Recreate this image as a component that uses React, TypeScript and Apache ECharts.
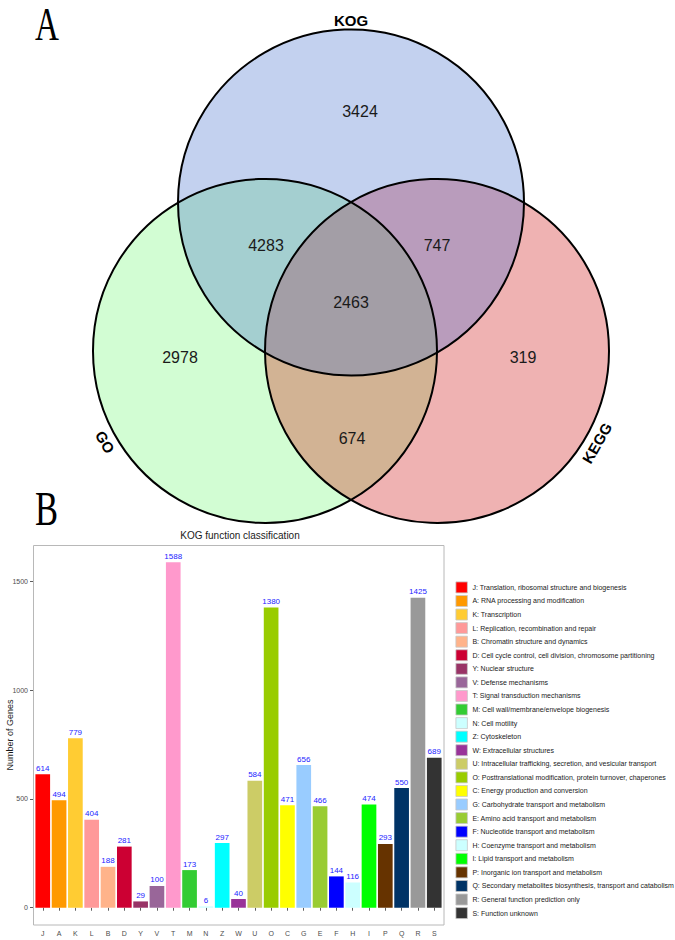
import React, { useEffect, useRef } from 'react';
import * as echarts from 'echarts';

// ---------- DATA ----------
const kogCats = ['J', 'A', 'K', 'L', 'B', 'D', 'Y', 'V', 'T', 'M', 'N', 'Z', 'W', 'U', 'O', 'C', 'G', 'E', 'F', 'H', 'I', 'P', 'Q', 'R', 'S'];
const kogValues = [614, 494, 779, 404, 188, 281, 29, 100, 1588, 173, 6, 297, 40, 584, 1380, 471, 656, 466, 144, 116, 474, 293, 550, 1425, 689];
const kogNames = [
  'J: Translation, ribosomal structure and biogenesis',
  'A: RNA processing and modification',
  'K: Transcription',
  'L: Replication, recombination and repair',
  'B: Chromatin structure and dynamics',
  'D: Cell cycle control, cell division, chromosome partitioning',
  'Y: Nuclear structure',
  'V: Defense mechanisms',
  'T: Signal transduction mechanisms',
  'M: Cell wall/membrane/envelope biogenesis',
  'N: Cell motility',
  'Z: Cytoskeleton',
  'W: Extracellular structures',
  'U: Intracellular trafficking, secretion, and vesicular transport',
  'O: Posttranslational modification, protein turnover, chaperones',
  'C: Energy production and conversion',
  'G: Carbohydrate transport and metabolism',
  'E: Amino acid transport and metabolism',
  'F: Nucleotide transport and metabolism',
  'H: Coenzyme transport and metabolism',
  'I: Lipid transport and metabolism',
  'P: Inorganic ion transport and metabolism',
  'Q: Secondary metabolites biosynthesis, transport and catabolism',
  'R: General function prediction only',
  'S: Function unknown',
];
const yTickValues = [0, 500, 1000, 1500];

const vennSets = ['KOG', 'GO', 'KEGG'];
// regions: KOG only, GO only, KEGG only, KOG&GO, KOG&KEGG, GO&KEGG, all three
const vennCounts = [3424, 2978, 319, 4283, 747, 674, 2463];

// ---------- STYLES / LAYOUT ----------
const FONT = '"Liberation Sans", Arial, sans-serif';
const kogColors = [
  '#FF0000', '#FF9900', '#FFCC33', '#FF9999', '#FFB38A', '#CC0033', '#993366', '#996699',
  '#FF99CC', '#33CC33', '#CCFFFF', '#00FFFF', '#993399', '#CCCC66', '#99CC00', '#FFFF00',
  '#99CCFF', '#99CC33', '#0000FF', '#CCFFFF', '#00FF00', '#663300', '#003366', '#999999', '#333333',
];
const VENN_CIRCLES = [
  { x: 351, y: 202.5, r: 173 },
  { x: 265, y: 351, r: 172 },
  { x: 437, y: 351, r: 172 },
];
const SET_FILL = ['#c3d1ef', '#d2fdd3', '#efb2b2'];
const PAIR_FILL = { KG: '#a4cfd0', KE: '#b99cbc', GE: '#d2b394' };
const TRIPLE_FILL = '#a39ea6';
const REGION_LABEL_POS = [
  [360, 111], [180, 357], [523, 357], [266, 245], [437, 245], [352, 438], [351, 302],
];
const SET_LABEL_POS = [
  { x: 351, y: 20, rot: 0 },
  { x: 105, y: 442, rot: -60 },
  { x: 597, y: 443, rot: 60 },
];

type C = { x: number; y: number; r: number };

function intersect(a: C, b: C): number[][] {
  const dx = b.x - a.x, dy = b.y - a.y;
  const d = Math.hypot(dx, dy);
  const l = (a.r * a.r - b.r * b.r + d * d) / (2 * d);
  const h = Math.sqrt(Math.max(0, a.r * a.r - l * l));
  const ux = dx / d, uy = dy / d;
  const mx = a.x + ux * l, my = a.y + uy * l;
  const nx = -uy, ny = ux;
  return [[mx + nx * h, my + ny * h], [mx - nx * h, my - ny * h]];
}
function arcPts(c: C, p: number[], q: number[], n = 90): number[][] {
  const a1 = Math.atan2(p[1] - c.y, p[0] - c.x);
  const a2 = Math.atan2(q[1] - c.y, q[0] - c.x);
  let da = a2 - a1;
  while (da > Math.PI) da -= 2 * Math.PI;
  while (da < -Math.PI) da += 2 * Math.PI;
  const out: number[][] = [];
  for (let i = 0; i <= n; i++) {
    const t = a1 + (da * i) / n;
    out.push([c.x + c.r * Math.cos(t), c.y + c.r * Math.sin(t)]);
  }
  return out;
}
function closest(pts: number[][], c: C) {
  return Math.hypot(pts[0][0] - c.x, pts[0][1] - c.y) <= Math.hypot(pts[1][0] - c.x, pts[1][1] - c.y) ? pts[0] : pts[1];
}
function lens(a: C, b: C) {
  const [p, q] = intersect(a, b);
  return arcPts(a, p, q).concat(arcPts(b, q, p));
}

function renderVenn(params: any, api: any) {
  const cs: C[] = VENN_CIRCLES.map((g) => {
    const p = api.coord([g.x, g.y]);
    const p2 = api.coord([g.x + g.r, g.y]);
    return { x: p[0], y: p[1], r: Math.abs(p2[0] - p[0]) };
  });
  const [K, G, E] = cs;
  const children: any[] = [];
  cs.forEach((c, i) => {
    children.push({ type: 'circle', shape: { cx: c.x, cy: c.y, r: c.r }, style: { fill: SET_FILL[i], stroke: null } });
  });
  children.push({ type: 'polygon', shape: { points: lens(K, G) }, style: { fill: PAIR_FILL.KG } });
  children.push({ type: 'polygon', shape: { points: lens(K, E) }, style: { fill: PAIR_FILL.KE } });
  children.push({ type: 'polygon', shape: { points: lens(G, E) }, style: { fill: PAIR_FILL.GE } });
  const vKG = closest(intersect(K, G), E);
  const vKE = closest(intersect(K, E), G);
  const vGE = closest(intersect(G, E), K);
  const tri = arcPts(K, vKG, vKE).concat(arcPts(E, vKE, vGE)).concat(arcPts(G, vGE, vKG));
  children.push({ type: 'polygon', shape: { points: tri }, style: { fill: TRIPLE_FILL } });
  cs.forEach((c) => {
    children.push({ type: 'circle', shape: { cx: c.x, cy: c.y, r: c.r }, style: { fill: 'none', stroke: '#000', lineWidth: 2 } });
  });
  vennCounts.forEach((v, i) => {
    const p = api.coord(REGION_LABEL_POS[i]);
    children.push({
      type: 'text', x: p[0], y: p[1],
      style: { text: String(v), fill: '#1a1a1a', fontSize: 16, fontFamily: FONT, align: 'center', verticalAlign: 'middle' },
    });
  });
  vennSets.forEach((s, i) => {
    const L = SET_LABEL_POS[i];
    const p = api.coord([L.x, L.y]);
    children.push({
      type: 'text', x: p[0], y: p[1], rotation: (L.rot * Math.PI) / 180,
      style: { text: s, fill: '#000', fontSize: 15, fontWeight: 'bold', fontFamily: FONT, align: 'center', verticalAlign: 'middle' },
    });
  });
  return { type: 'group', children };
}

function buildOption(): any {
  const yMin = -79.4, yMax = 1667.4;
  const barSeries = kogCats.map((c, i) => ({
    type: 'bar',
    name: kogNames[i],
    stack: 'kog',
    xAxisIndex: 0,
    yAxisIndex: 0,
    barWidth: '90%',
    data: kogCats.map((_, j) => (j === i ? kogValues[i] : '-')),
    itemStyle: { color: kogColors[i] },
    label: { show: true, position: 'top', distance: 2, color: '#2323ff', fontSize: 8, fontFamily: FONT },
  }));
  return {
    animation: false,
    backgroundColor: '#ffffff',
    textStyle: { fontFamily: FONT },
    grid: [
      { left: 34.6, top: 545, width: 407.8, height: 380, containLabel: false, outerBoundsMode: 'none' },
      { left: 0, top: 0, width: 675, height: 530, containLabel: false, outerBoundsMode: 'none' },
    ],
    xAxis: [
      {
        type: 'category', gridIndex: 0, data: kogCats,
        axisLine: { show: false },
        axisTick: { show: true, alignWithLabel: true, length: 3, lineStyle: { color: '#333333', width: 0.8 } },
        axisLabel: { fontSize: 7, color: '#4d4d4d', margin: 5 },
      },
      { type: 'value', gridIndex: 1, min: 0, max: 675, show: false },
    ],
    yAxis: [
      {
        type: 'value', gridIndex: 0, min: yMin, max: yMax, offset: 1.6,
        axisLine: { show: false },
        axisTick: { show: true, length: 3, customValues: yTickValues, lineStyle: { color: '#333333', width: 0.8 } },
        axisLabel: { customValues: yTickValues, fontSize: 7, color: '#4d4d4d', margin: 5, formatter: (v: number) => String(v) },
        splitLine: { show: false },
        name: 'Number of Genes', nameLocation: 'middle', nameGap: 19, nameRotate: 90,
        nameMoveOverlap: false,
        nameTextStyle: { fontSize: 9, color: '#1a1a1a' },
      },
      { type: 'value', gridIndex: 1, min: 0, max: 530, inverse: true, show: false },
    ],
    legend: {
      orient: 'vertical', left: 455.5, top: 581.5, padding: 0,
      itemWidth: 11.5, itemHeight: 11, itemGap: 1.77, icon: 'rect',
      selectedMode: false,
      itemStyle: { borderColor: '#c8c8c8', borderWidth: 0.8 },
      textStyle: { fontSize: 7, color: '#1a1a1a', fontFamily: FONT },
      data: kogNames,
    },
    graphic: [
      { type: 'text', x: 35, y: 24.5, scaleX: 0.72, style: { text: 'A', fontSize: 46, lineHeight: 34, fontFamily: '"Liberation Serif", serif', fill: '#000', align: 'left', verticalAlign: 'middle' } },
      { type: 'text', x: 35, y: 509, scaleX: 0.72, style: { text: 'B', fontSize: 48, lineHeight: 34, fontFamily: '"Liberation Serif", serif', fill: '#000', align: 'left', verticalAlign: 'middle' } },
      { type: 'text', x: 240, y: 535.5, style: { text: 'KOG function classification', fontSize: 10, fontFamily: FONT, fill: '#1a1a1a', align: 'center', verticalAlign: 'middle' } },
      { type: 'rect', shape: { x: 33.5, y: 545.5, width: 410.5, height: 379.5 }, style: { fill: 'none', stroke: '#b8b8b8', lineWidth: 1 }, z: 10 },
    ],
    series: [
      {
        type: 'custom', coordinateSystem: 'cartesian2d', xAxisIndex: 1, yAxisIndex: 1,
        silent: true, clip: false, data: [[0, 0]], renderItem: renderVenn,
      },
      ...barSeries,
    ],
  };
}

export default function App() {
  const ref = useRef<HTMLDivElement>(null);
  useEffect(() => {
    const chart = echarts.init(ref.current!, null, { renderer: 'svg' });
    chart.setOption(buildOption());
    return () => chart.dispose();
  }, []);
  return (
    <div
      ref={ref}
      style={{ position: 'absolute', left: 0, top: 0, width: 675, height: 940, background: '#fff' }}
    />
  );
}
